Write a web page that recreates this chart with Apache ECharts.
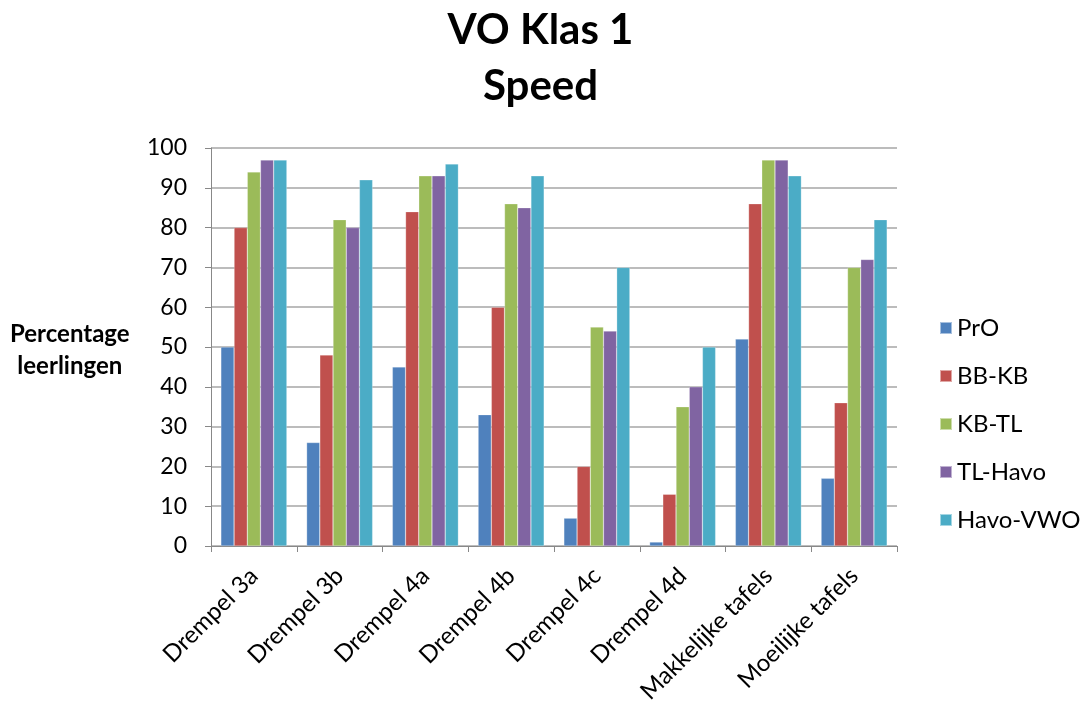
<!DOCTYPE html>
<html><head><meta charset="utf-8">
<script src="https://cdn.jsdelivr.net/npm/echarts@6/dist/echarts.min.js"></script>
<style>html,body{margin:0;padding:0;background:#fff}#c{width:1081px;height:710px}</style>
</head><body><div id="c"></div>
<script>
const categories = ['Drempel 3a','Drempel 3b','Drempel 4a','Drempel 4b','Drempel 4c','Drempel 4d','Makkelijke tafels','Moeilijke tafels'];
const seriesNames = ['PrO','BB-KB','KB-TL','TL-Havo','Havo-VWO'];
const PrO     = [50, 26, 45, 33, 7, 1, 52, 17];
const BBKB    = [80, 48, 84, 60, 20, 13, 86, 36];
const KBTL    = [94, 82, 93, 86, 55, 35, 97, 70];
const TLHavo  = [97, 80, 93, 85, 54, 40, 97, 72];
const HavoVWO = [97, 92, 96, 93, 70, 50, 93, 82];
const yTicks = [0,10,20,30,40,50,60,70,80,90,100];
const colors = ['#4F81BD','#C0504D','#9BBB59','#8064A2','#4BACC6'];
const values = [PrO, BBKB, KBTL, TLHavo, HavoVWO];
const FONT = 'Lato, "Open Sans", sans-serif';

const chart = echarts.init(document.getElementById('c'));
chart.setOption({
  animation: false,
  backgroundColor: '#fff',
  color: colors,
  title: {
    text: 'VO Klas 1\nSpeed',
    left: 'center', top: -3,
    textStyle: {fontFamily: FONT, fontSize: 42, fontWeight: 'bold', color: '#000', lineHeight: 56}
  },
  graphic: [{
    type: 'text', left: 10, top: 318,
    style: {text: 'Percentage\nleerlingen', font: 'bold 24px ' + FONT, fill: '#000', textAlign: 'center', lineHeight: 32, x: 62}
  }],
  legend: {
    orient: 'vertical', left: 934, top: 311,
    itemWidth: 12, itemHeight: 12, itemGap: 24,
    icon: 'rect',
    textStyle: {fontFamily: FONT, fontSize: 24, color: '#000'},
    data: seriesNames
  },
  grid: {left: 211, right: 184, top: 148, bottom: 164, containLabel: false},
  xAxis: {
    type: 'category', data: categories,
    axisLine: {lineStyle: {color: '#888', width: 1}},
    axisTick: {show: true, length: 6, lineStyle: {color: '#888'}},
    axisLabel: {rotate: 45, fontFamily: FONT, fontSize: 24, color: '#000', margin: 26}
  },
  yAxis: {
    type: 'value', min: 0, max: 100, interval: 10,
    axisLine: {show: true, lineStyle: {color: '#888'}},
    axisTick: {show: true, length: 6, lineStyle: {color: '#888'}},
    axisLabel: {fontFamily: FONT, fontSize: 23, color: '#000', margin: 24,
      formatter: v => yTicks.includes(v) ? String(v) : ''},
    splitLine: {lineStyle: {color: '#a6a6a6', width: 1.5}}
  },
  series: values.map((d, i) => ({
    name: seriesNames[i], type: 'bar', data: d,
    barGap: '0%', barCategoryGap: '23%',
    itemStyle: {color: colors[i], borderColor: 'rgba(255,255,255,0.5)', borderWidth: 0.5}
  }))
});
</script></body></html>
